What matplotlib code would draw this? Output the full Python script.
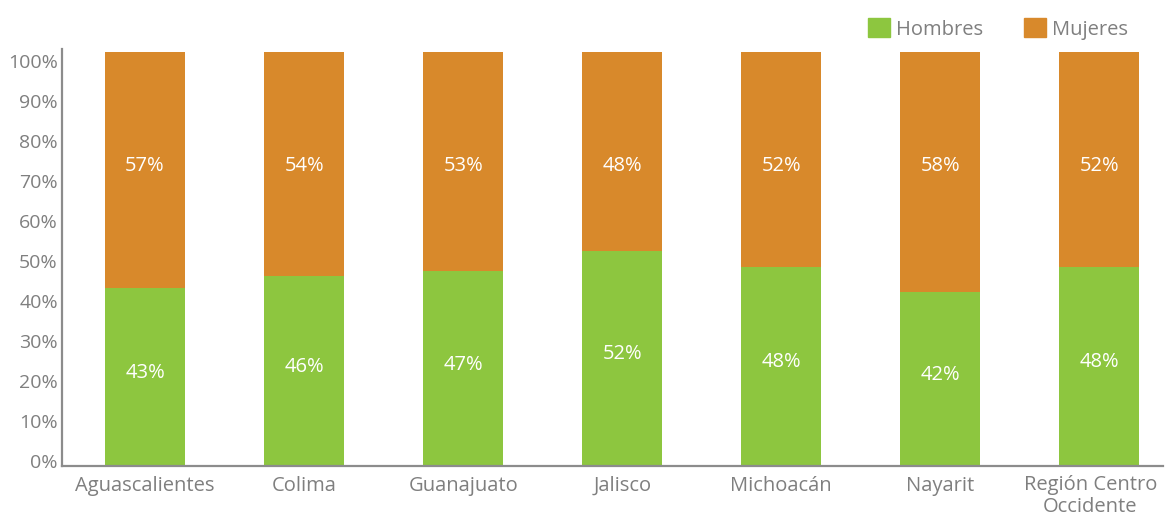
import matplotlib
matplotlib.use("Agg")
import matplotlib.pyplot as plt
import numpy as np
from matplotlib.patches import Patch
from matplotlib.transforms import ScaledTranslation

GREEN, ORANGE, GREY = "#8DC63F", "#D8892B", "#7F7F7F"

estados = ["Aguascalientes", "Colima", "Guanajuato", "Jalisco", "Michoacán",
           "Nayarit", "Región Centro\nOccidente"]
hombres = [43, 46, 47, 52, 48, 42, 48]
mujeres = [57, 54, 53, 48, 52, 58, 52]
tick_labels = [f"{v}%" for v in range(0, 101, 10)]

plt.rcParams["font.family"] = ["Open Sans", "DejaVu Sans"]
FS = 14.5

fig = plt.figure(figsize=(11.67, 5.17), dpi=100)
ax = fig.add_axes([62 / 1167, 51 / 517, 1101 / 1167, 417 / 517])

x = np.arange(len(estados))
w = 0.503
b1 = ax.bar(x, hombres, w, color=GREEN)
b2 = ax.bar(x, mujeres, w, bottom=hombres, color=ORANGE)
anns = ax.bar_label(b1, labels=[f"{v}%" for v in hombres], label_type="center",
                    color="white", fontsize=FS)
for a in anns:
    a.xyann = (0, 3)
# the women's labels all sit on one line in the original
for xi, v in zip(x, mujeres):
    ax.text(xi, 72.5, f"{v}%", ha="center", va="center", color="white", fontsize=FS)

# the original's axis labels sit a little below the bar tops
ticks = 1.2 + np.arange(11) * 9.66
ax.set_yticks(ticks)
ax.set_yticklabels(tick_labels)
ax.set_ylim(0, 100.7)
ax.set_xlim(-0.522, 6.40)
ax.set_xticks(x)
ax.set_xticklabels(estados, linespacing=1.15)
ax.tick_params(axis="both", length=0, colors=GREY, labelsize=FS)
ax.tick_params(axis="y", labelsize=14, pad=3)
ax.tick_params(axis="x", pad=18)
for lab in ax.get_xticklabels():
    lab.set_va("baseline")
    if "\n" in lab.get_text():
        # baseline is the last line; push it down so the first line lines up,
        # and nudge it left to stay inside the figure like the original
        lab.set_transform(lab.get_transform()
                          + ScaledTranslation(-0.09, -0.21, fig.dpi_scale_trans))
for s in ("top", "right"):
    ax.spines[s].set_visible(False)
for s in ("left", "bottom"):
    ax.spines[s].set_color("#8C8C8C")
    ax.spines[s].set_linewidth(1.6)

handles = [Patch(color=GREEN, label="Hombres"), Patch(color=ORANGE, label="Mujeres")]
leg = fig.legend(handles=handles, loc="upper right", bbox_to_anchor=(1146 / 1167, 1.0),
                 ncol=2, frameon=False, fontsize=FS, handlelength=1.1,
                 handleheight=1.1, handletextpad=0.3, columnspacing=2.0)
for t in leg.get_texts():
    t.set_color(GREY)

fig.savefig("out.png", dpi=100)
